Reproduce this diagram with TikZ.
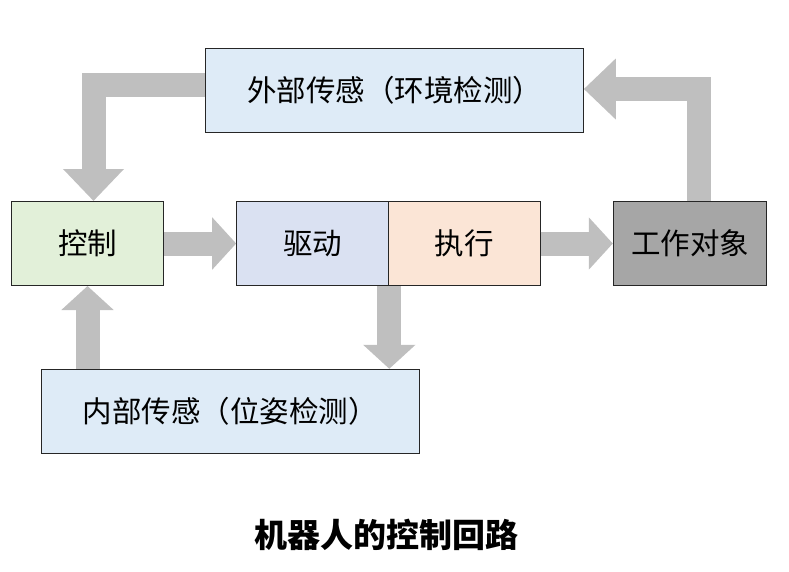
\documentclass[tikz,border=0pt]{standalone}
\usepackage{fontspec}
\setmainfont{Noto Sans CJK SC}
\usetikzlibrary{arrows.meta,calc}
\definecolor{sensblue}{HTML}{DEEBF7}
\definecolor{ctrlgreen}{HTML}{E2F0D9}
\definecolor{drvblue}{HTML}{DAE1F2}
\definecolor{actpeach}{HTML}{FBE5D6}
\definecolor{objgray}{HTML}{A6A6A6}
\definecolor{arrgray}{HTML}{BFBFBF}
\tikzset{
  box/.style={draw=black!85, line width=1pt, rectangle, inner sep=0pt,
    minimum height=84pt, font=\fontsize{29.5pt}{34pt}\selectfont},
  blockarrow/.style={draw=arrgray, line width=24pt, line join=miter},
  tipsmall/.style={-{Triangle[length=24pt 0 0,width=51pt 0 0,color=arrgray]}},
  tipbig/.style={-{Triangle[length=32pt 0 0,width=59pt 0 0,color=arrgray]}},
}
\begin{document}
\begin{tikzpicture}[x=1pt,y=-1pt]
\useasboundingbox (0,0) rectangle (789,571);
% nodes
\node[box, fill=sensblue, minimum width=377.6pt] (ext) at (394.5,90) {外部传感（环境检测）};
\node[box, fill=ctrlgreen, minimum width=151.6pt] (ctrl) at (87.5,243.5) {控制};
\node[box, fill=drvblue, minimum width=151.6pt] (drv) at (312.5,243.5) {驱动};
\node[box, fill=actpeach, minimum width=151.7pt] (act) at (464.2,243.5) {执行};
\node[box, fill=objgray, minimum width=153.4pt] (obj) at (690,243.5) {工作对象};
\node[box, fill=sensblue, minimum width=377.3pt] (int) at (230.35,411.3) {内部传感（位姿检测）};
\node[font=\fontsize{33pt}{38pt}\selectfont\bfseries] (title) at (386,535) {机器人的控制回路};
% connectors
\draw[blockarrow, tipsmall] (ctrl.east) -- (drv.west);
\draw[blockarrow, tipsmall] (act.east) -- (obj.west);
\draw[blockarrow, tipsmall] (int.north -| ctrl.south) -- (ctrl.south);
\draw[blockarrow, tipsmall] ($(drv.south east)+(0.5,0)$) -- ($(drv.south east |- int.north)+(0.5,0)$);
\draw[blockarrow, tipbig] ($(obj.north)+(9,0)$) |- ($(ext.east)+(0,-1)$);
\draw[blockarrow, tipbig] ($(ext.west)+(0,-5)$) -| ($(ctrl.north)+(6,0)$);
\end{tikzpicture}
\end{document}
